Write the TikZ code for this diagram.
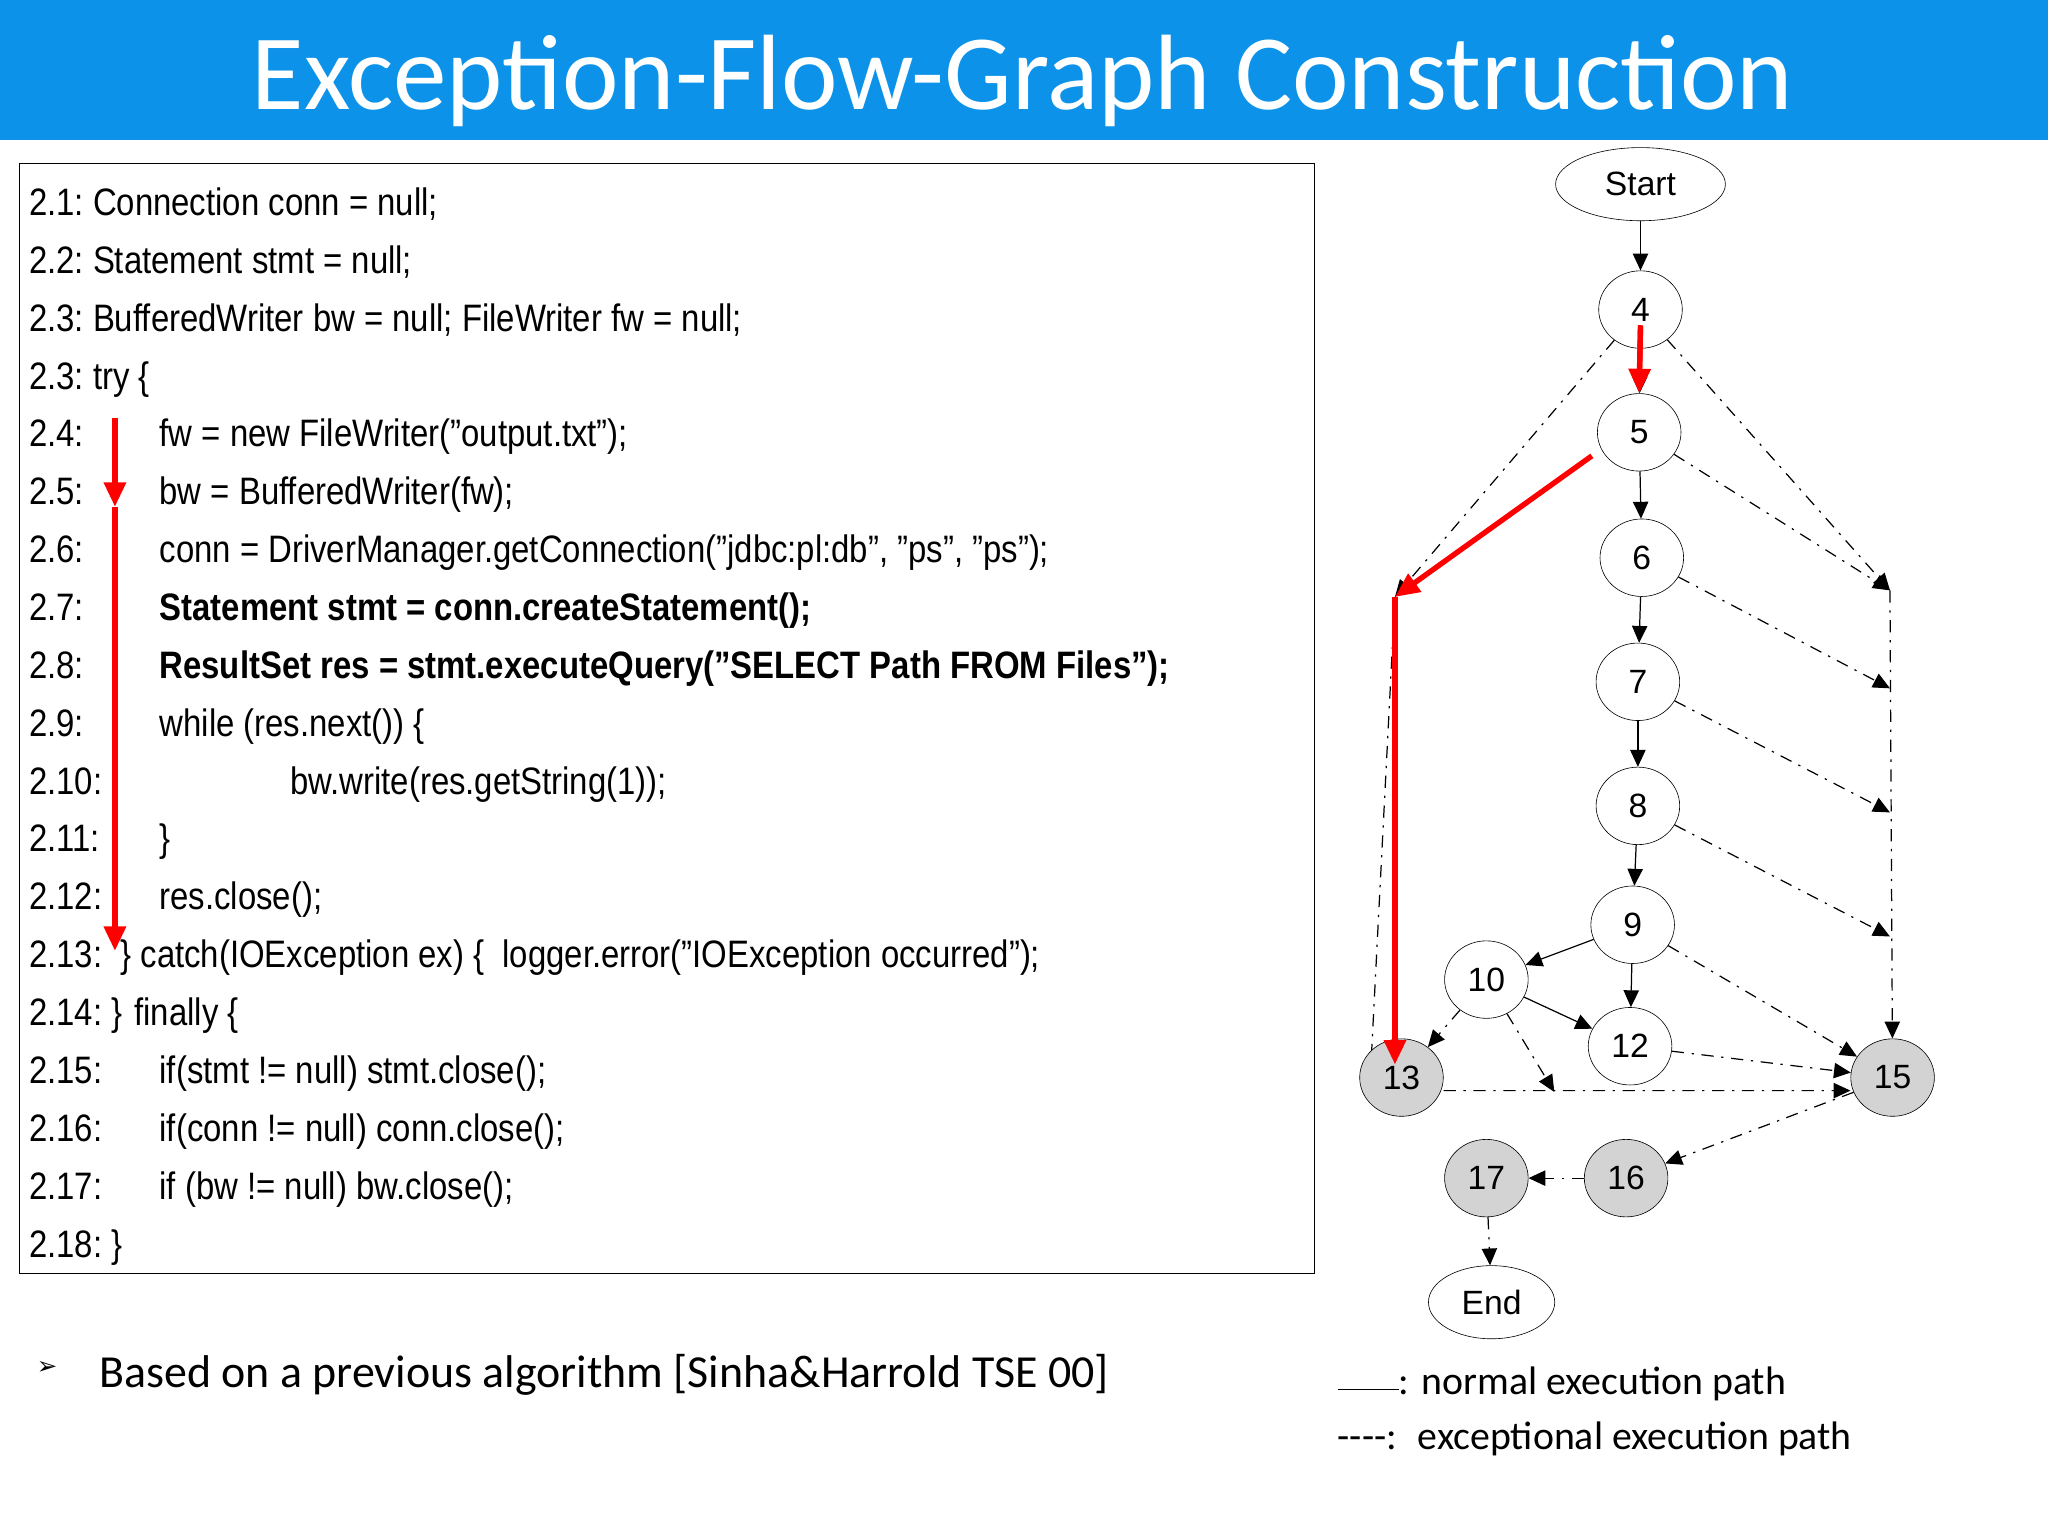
\documentclass[tikz,border=0pt]{standalone}
\usepackage{fontspec}
\usepackage{graphicx}
\setmainfont{Liberation Sans}
\newfontfamily\calib{Carlito}
\newfontfamily\djv{DejaVu Sans}
\usetikzlibrary{shapes.geometric,arrows.meta}
\definecolor{titleblue}{HTML}{0C93E9}
\definecolor{nodegray}{HTML}{D3D3D3}
\tikzset{
  codeline/.style={anchor=base west, inner sep=0pt, font=\fontsize{25}{28}\selectfont},
  gnode/.style={ellipse, draw, thin, minimum width=1.92cm, minimum height=1.78cm, inner sep=0pt, font=\fontsize{22}{24}\selectfont},
  gray node/.style={gnode, fill=nodegray},
  term/.style={gnode, minimum width=3.9cm, minimum height=1.68cm},
  norm/.style={-{Triangle[length=11pt,width=10pt]}, thick},
  exc/.style={-{Triangle[length=11pt,width=10pt]}, thick, dash pattern=on 8pt off 5pt on 1.5pt off 5pt},
  excl/.style={thick, dash pattern=on 8pt off 5pt on 1.5pt off 5pt},
  redarrow/.style={-{Triangle[length=16pt,width=14pt]}, red, line width=3.5pt},
}
\begin{document}
\begin{tikzpicture}[x=0.03cm,y=-0.03cm]
\useasboundingbox (0,0) rectangle (1568,1175);
\fill[white] (0,0) rectangle (1568,1175);
\fill[titleblue] (0,0) rectangle (1568,107);
\node[white, font=\calib\fontsize{70}{76}\selectfont] (title) at (783,62) {Exception-Flow-Graph Construction};

% code box
\draw[thin] (15,125) rectangle (1006,975);
\foreach \lab/\code [count=\i from 0] in {
 2.1:/{Connection conn = null;},
 2.2:/{Statement stmt = null;},
 2.3:/{BufferedWriter bw = null; FileWriter fw = null;},
 2.3:/{try \{},
 2.4:/{},
 2.5:/{},
 2.6:/{},
 2.7:/{},
 2.8:/{},
 2.9:/{},
 2.10:/{},
 2.11:/{},
 2.12:/{},
 2.13:/{},
 2.14:/{\} finally \{},
 2.15:/{},
 2.16:/{},
 2.17:/{},
 2.18:/{\}}}{
  \node[codeline] (l\i) at (22,{165+44.3*\i}) {\scalebox{0.86}[1]{\lab\ \code}};
}
\node[codeline] (c4) at (122,{165+44.3*4}) {\scalebox{0.86}[1]{fw = new FileWriter("output.txt");}};
\node[codeline] (c5) at (122,{165+44.3*5}) {\scalebox{0.86}[1]{bw = BufferedWriter(fw);}};
\node[codeline] (c6) at (122,{165+44.3*6}) {\scalebox{0.86}[1]{conn = DriverManager.getConnection("jdbc:pl:db", "ps", "ps");}};
\node[codeline] (c7) at (122,{165+44.3*7}) {\scalebox{0.86}[1]{\bfseries Statement stmt = conn.createStatement();}};
\node[codeline] (c8) at (122,{165+44.3*8}) {\scalebox{0.86}[1]{\bfseries ResultSet res = stmt.executeQuery("SELECT Path FROM Files");}};
\node[codeline] (c9) at (122,{165+44.3*9}) {\scalebox{0.86}[1]{while (res.next()) \{}};
\node[codeline] (c10) at (222,{165+44.3*10}) {\scalebox{0.86}[1]{bw.write(res.getString(1));}};
\node[codeline] (c11) at (122,{165+44.3*11}) {\scalebox{0.86}[1]{\}}};
\node[codeline] (c12) at (122,{165+44.3*12}) {\scalebox{0.86}[1]{res.close();}};
\node[codeline] (c13) at (92,{165+44.3*13}) {\scalebox{0.86}[1]{\} catch(IOException ex) \{ \ logger.error("IOException occurred");}};
\node[codeline] (c15) at (122,{165+44.3*15}) {\scalebox{0.86}[1]{if(stmt != null) stmt.close();}};
\node[codeline] (c16) at (122,{165+44.3*16}) {\scalebox{0.86}[1]{if(conn != null) conn.close();}};
\node[codeline] (c17) at (122,{165+44.3*17}) {\scalebox{0.86}[1]{if (bw != null) bw.close();}};
% red arrow in code
\coordinate (ra) at (88,320);
\coordinate (rb) at (88,388);
\coordinate (rc) at (88,728);
\draw[redarrow] (ra) -- (rb);
\draw[redarrow] (rb) -- (rc);

% graph nodes
\node[term] (start) at (1256,141) {Start};
\node[gnode] (n4) at (1256,237) {4};
\node[gnode] (n5) at (1255,331) {5};
\node[gnode] (n6) at (1257,427) {6};
\node[gnode] (n7) at (1254,522) {7};
\node[gnode] (n8) at (1254,617) {8};
\node[gnode] (n9) at (1250,708) {9};
\node[gnode] (n10) at (1138,750) {10};
\node[gnode] (n12) at (1248,801) {12};
\node[gray node] (n13) at (1073,825) {13};
\node[gray node] (n15) at (1449,825) {15};
\node[gray node] (n16) at (1245,902) {16};
\node[gray node] (n17) at (1138,902) {17};
\node[term, minimum width=2.9cm] (end) at (1142,997) {End};

\coordinate (lc) at (1068,457);
\coordinate (r1) at (1447,452);
\coordinate (r2) at (1447,527);
\coordinate (r3) at (1447,622);
\coordinate (r4) at (1447,717);
\coordinate (m1) at (1190,836);

% normal edges
\draw[norm] (start) -- (n4);
\draw[norm] (n4) -- (n5);
\draw[norm] (n5) -- (n6);
\draw[norm] (n6) -- (n7);
\draw[norm] (n7) -- (n8);
\draw[norm] (n8) -- (n9);
\draw[norm] (n9) -- (n10);
\draw[norm] (n9) -- (n12);
\draw[norm] (n10) -- (n12);
% exceptional edges
\draw[exc] (n4) -- (lc);
\draw[excl] (lc) -- (n13.north west);
\draw[exc] (n4) -- (r1);
\draw[exc] (n5) -- (r1);
\draw[exc] (n6) -- (r2);
\draw[exc] (n7) -- (r3);
\draw[exc] (n8) -- (r4);
\draw[exc] (r1) -- (n15);
\draw[exc] (n9) -- (n15);
\draw[exc] (n10) -- (n13);
\draw[exc] (n10) -- (m1);
\draw[exc] (n13.east) ++(0,10) -- ([yshift=-0.3cm]n15.west);
\draw[exc] (n12) -- (n15);
\draw[exc] (n15) -- (n16);
\draw[exc] (n16) -- (n17);
\draw[exc] (n17) -- (end);
% red path in graph
\draw[redarrow, -] (n4.center) ++(0,12) -- ([yshift=6pt]n5.north);
\draw[redarrow] (1256,250) -- (n5.north);
\draw[redarrow] (n5.west) ++(-4,18) -- (lc);
\draw[redarrow] (lc) -- (1068,815);

% bullet and legend
\node[anchor=base west, font=\djv\fontsize{16}{18}\selectfont] (bul) at (24,1052) {➢};
\node[anchor=base west, font=\calib\fontsize{30}{34}\selectfont] (btxt) at (72,1062) {Based on a previous algorithm [Sinha\&Harrold TSE 00]};
\node[anchor=base west, font=\calib\fontsize{26}{30}\selectfont] (leg1) at (1020,1068) {\rule[3pt]{40pt}{0.8pt}: normal execution path};
\node[anchor=base west, font=\calib\fontsize{26}{30}\selectfont] (leg2) at (1020,1110) {----: \ exceptional execution path};
\end{tikzpicture}
\end{document}
